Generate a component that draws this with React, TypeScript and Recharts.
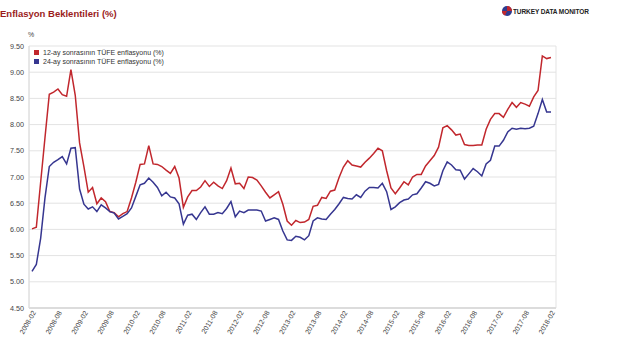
import { LineChart, Line, XAxis, YAxis, CartesianGrid, Legend } from "recharts";

// monthly categories 2008-02 .. 2018-02
const months: string[] = [];
for (let i = 0; i < 121; i++) {
  const m = (1 + i) % 12;
  const y = 2008 + Math.floor((1 + i) / 12);
  months.push(`${y}-${String(m + 1).padStart(2, "0")}`);
}

const xTicks = [
  "2008-02", "2008-08", "2009-02", "2009-08", "2010-02", "2010-08", "2011-02",
  "2011-08", "2012-02", "2012-08", "2013-02", "2013-08", "2014-02", "2014-08",
  "2015-02", "2015-08", "2016-02", "2016-08", "2017-02", "2017-08", "2018-02",
];

const yTicks = [4.5, 5, 5.5, 6, 6.5, 7, 7.5, 8, 8.5, 9, 9.5];

// 12-ay sonrasının TÜFE enflasyonu
const cpi12 = [
  6.01, 6.04, 6.9, 7.75, 8.58, 8.62, 8.68, 8.57, 8.54, 9.05, 8.56, 7.65,
  7.2, 6.71, 6.8, 6.49, 6.6, 6.53, 6.34, 6.32, 6.24, 6.3, 6.34, 6.6,
  6.9, 7.24, 7.25, 7.6, 7.25, 7.24, 7.2, 7.13, 7.07, 7.2, 6.98, 6.42,
  6.62, 6.74, 6.74, 6.81, 6.93, 6.82, 6.9, 6.83, 6.78, 6.93, 7.17, 6.87,
  6.88, 6.78, 7.0, 6.99, 6.94, 6.83, 6.71, 6.6, 6.66, 6.72, 6.48, 6.16,
  6.08, 6.17, 6.13, 6.14, 6.19, 6.44, 6.46, 6.61, 6.59, 6.73, 6.75, 6.99,
  7.19, 7.31, 7.23, 7.21, 7.19, 7.28, 7.36, 7.45, 7.55, 7.5, 7.12, 6.79,
  6.68, 6.79, 6.91, 6.85, 7.0, 7.05, 7.05, 7.21, 7.31, 7.41, 7.57, 7.94,
  7.98, 7.9, 7.8, 7.82, 7.62, 7.6, 7.6, 7.61, 7.61, 7.91, 8.1, 8.21,
  8.21, 8.14, 8.29, 8.42, 8.33, 8.42, 8.39, 8.35, 8.53, 8.65, 9.31, 9.26,
  9.28,
];

// 24-ay sonrasının TÜFE enflasyonu
const cpi24 = [
  5.2, 5.33, 5.83, 6.6, 7.2, 7.28, 7.33, 7.39, 7.25, 7.55, 7.56, 6.77,
  6.48, 6.39, 6.43, 6.34, 6.47, 6.41, 6.34, 6.31, 6.2, 6.25, 6.3, 6.41,
  6.63, 6.85, 6.88, 6.98, 6.9, 6.8, 6.64, 6.71, 6.62, 6.6, 6.49, 6.1,
  6.27, 6.29, 6.19, 6.32, 6.43, 6.29, 6.29, 6.32, 6.3, 6.4, 6.53, 6.24,
  6.35, 6.32, 6.37, 6.37, 6.37, 6.35, 6.16, 6.19, 6.22, 6.19, 5.97, 5.8,
  5.79, 5.87, 5.85, 5.8, 5.88, 6.16, 6.22, 6.2, 6.19, 6.29, 6.38, 6.49,
  6.61, 6.59, 6.58, 6.66, 6.61, 6.73, 6.8, 6.8, 6.79, 6.88, 6.72, 6.38,
  6.43, 6.51, 6.56, 6.58, 6.66, 6.68, 6.79, 6.91, 6.88, 6.83, 6.86, 7.12,
  7.29, 7.23, 7.14, 7.13, 6.96, 7.06, 7.16, 7.1, 7.02, 7.25, 7.32, 7.59,
  7.59, 7.7, 7.86, 7.93, 7.91, 7.93, 7.92, 7.93, 7.97, 8.21, 8.48, 8.24,
  8.24,
];

const RED = "#c1272d";
const BLUE = "#363690";

const data = months.map((m, i) => ({ month: m, cpi12: cpi12[i], cpi24: cpi24[i] }));

const legendItems = [
  { label: "12-ay sonrasının TÜFE enflasyonu (%)", color: RED },
  { label: "24-ay sonrasının TÜFE enflasyonu (%)", color: BLUE },
];

const renderLegend = () => (
  <div style={{ fontSize: 7, color: "#333", lineHeight: "9px" }}>
    {legendItems.map((it) => (
      <div key={it.label} style={{ display: "flex", alignItems: "center" }}>
        <span style={{ width: 5, height: 5, background: it.color, marginRight: 4, display: "inline-block" }} />
        {it.label}
      </div>
    ))}
  </div>
);

export default function App() {
  return (
    <div
      style={{
        position: "absolute",
        left: 0,
        top: 0,
        width: 640,
        height: 360,
        background: "#fff",
        overflow: "hidden",
        fontFamily: "Arial, 'Liberation Sans', sans-serif",
      }}
    >
      <div style={{ position: "absolute", left: 0, top: 8, fontSize: 9.5, fontWeight: "bold", color: "#9b1c1c", lineHeight: "12px" }}>
        Enflasyon Beklentileri (%)
      </div>
      <div style={{ position: "absolute", left: 502, top: 6, display: "flex", alignItems: "center" }}>
        <svg width={10} height={10}>
          <circle cx={5} cy={5} r={5} fill="#2e3b8f" />
          <path d="M5 5 L5 0 A5 5 0 0 1 10 5 Z" fill="#c1272d" />
          <path d="M5 5 L0 5 A5 5 0 0 0 3 9.6 Z" fill="#c1272d" />
        </svg>
        <span style={{ fontSize: 6.5, fontWeight: "bold", color: "#222", marginLeft: 1, letterSpacing: -0.1 }}>TURKEY DATA MONITOR</span>
      </div>
      <div style={{ position: "absolute", left: 28, top: 31, fontSize: 7, color: "#444" }}>%</div>
      <LineChart width={640} height={360} data={data} margin={{ top: 46, right: 84, bottom: 0, left: 0 }}>
        <CartesianGrid stroke="#e3e3e3" verticalPoints={[29, 556]} />
        <XAxis
          dataKey="month"
          ticks={xTicks}
          interval={0}
          angle={-60}
          textAnchor="end"
          height={52}
          tick={{ fontSize: 7, fill: "#444" }}
          tickLine={false}
          tickSize={1}
          tickMargin={1}
          axisLine={{ stroke: "#dcdcdc", strokeWidth: 2 }}
          padding={{ left: 3, right: 5 }}
        />
        <YAxis
          domain={[4.5, 9.5]}
          ticks={yTicks}
          tickFormatter={(v: number) => v.toFixed(2)}
          width={29}
          tick={{ fontSize: 7.2, fill: "#444" }}
          tickLine={false}
          tickSize={3}
          tickMargin={2}
          axisLine={{ stroke: "#dcdcdc" }}
        />
        <Legend
          layout="vertical"
          align="center"
          verticalAlign="middle"
          content={renderLegend}
          wrapperStyle={{ left: 34, top: 48, width: 200 }}
        />
        <Line type="linear" dataKey="cpi12" stroke={RED} strokeWidth={1.5} dot={false} isAnimationActive={false} />
        <Line type="linear" dataKey="cpi24" stroke={BLUE} strokeWidth={1.5} dot={false} isAnimationActive={false} />
      </LineChart>
    </div>
  );
}
